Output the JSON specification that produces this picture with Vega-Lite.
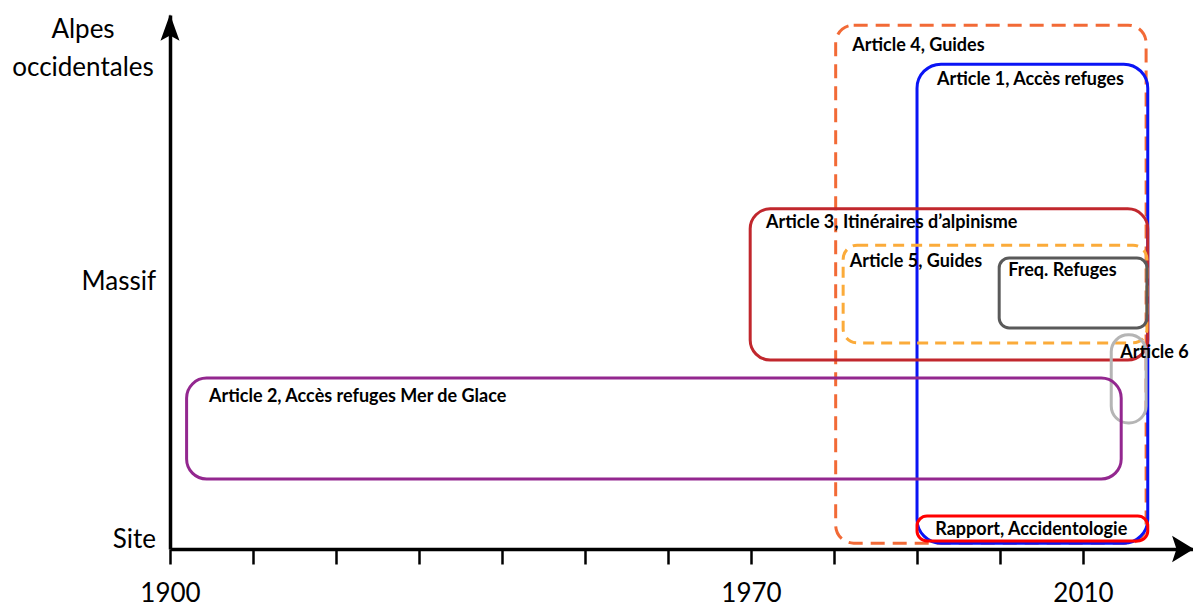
{
  "$schema": "https://vega.github.io/schema/vega-lite/v6.json",
  "width": 1023,
  "height": 534,
  "autosize": {"type": "none"},
  "padding": {"left": 170, "top": 15, "right": 0, "bottom": 58},
  "background": "white",
  "config": {"view": {"stroke": null}},
  "datasets": {
    "boxes": [
      {"id": "a4", "label": "Article 4, Guides", "start": 1980.2, "end": 2017.6, "top": 98.1, "bottom": 1.1, "lx": 1982.2, "ly": 94.2},
      {"id": "a1", "label": "Article 1, Accès refuges", "start": 1990.0, "end": 2017.8, "top": 90.8, "bottom": 1.1, "lx": 1992.4, "ly": 87.8},
      {"id": "a3", "label": "Article 3, Itinéraires d’alpinisme", "start": 1969.9, "end": 2017.8, "top": 63.7, "bottom": 35.4, "lx": 1971.8, "ly": 61.0},
      {"id": "a5", "label": "Article 5, Guides", "start": 1981.1, "end": 2017.7, "top": 56.9, "bottom": 38.6, "lx": 1981.9, "ly": 53.7},
      {"id": "fr", "label": "Freq. Refuges", "start": 1999.9, "end": 2017.7, "top": 54.5, "bottom": 41.4, "lx": 2001.0, "ly": 52.1},
      {"id": "a6", "label": "Article 6", "start": 2013.4, "end": 2017.6, "top": 40.1, "bottom": 23.6, "lx": 2014.5, "ly": 36.7},
      {"id": "a2", "label": "Article 2, Accès refuges Mer de Glace", "start": 1902.0, "end": 2014.6, "top": 32.0, "bottom": 13.1, "lx": 1904.7, "ly": 28.5},
      {"id": "ra", "label": "Rapport, Accidentologie", "start": 1990.0, "end": 2017.8, "top": 6.2, "bottom": 1.5, "lx": 1992.2, "ly": 3.6}
    ],
    "levels": [
      {"label": "Site", "level": 1.7},
      {"label": "Massif", "level": 50.0}
    ],
    "top_level": [
      {"label": "Alpes\noccidentales", "level": 97.2}
    ],
    "arrow_x": [{"year": 2022.05, "level": 0}],
    "arrow_y": [{"year": 1900, "level": 97.66}]
  },
  "layer": [
    {
      "data": {"name": "boxes"},
      "transform": [{"filter": "datum.id == 'a4'"}],
      "mark": {"type": "rect", "filled": false, "stroke": "#f26a36", "strokeWidth": 3, "strokeDash": [14, 8], "cornerRadius": 18},
      "encoding": {
        "x": {"field": "start", "type": "quantitative", "scale": {"domain": [1900, 2023.25], "nice": false, "zero": false},
          "axis": {"title": null, "values": [1900, 1910, 1920, 1930, 1940, 1950, 1960, 1970, 1980, 1990, 2000, 2010], "format": "d",
            "labelExpr": "datum.value == 1900 || datum.value == 1970 || datum.value == 2010 ? datum.label : ''",
            "domainColor": "black", "domainWidth": 3.5, "tickColor": "black", "tickWidth": 2.5, "tickSize": 15,
            "labelFont": "Lato", "labelFontSize": 26, "labelColor": "black", "labelPadding": 16, "grid": false, "labelFlush": false, "labelOverlap": false}},
        "x2": {"field": "end"},
        "y": {"field": "top", "type": "quantitative", "scale": {"domain": [0, 100], "nice": false, "zero": false},
          "axis": {"title": null, "labels": false, "ticks": false, "grid": false, "domainColor": "black", "domainWidth": 3.5}},
        "y2": {"field": "bottom"}
      }
    },
    {
      "data": {"name": "boxes"},
      "transform": [{"filter": "datum.id == 'a1'"}],
      "mark": {"type": "rect", "filled": false, "stroke": "#0a14f5", "strokeWidth": 3, "cornerRadius": 24},
      "encoding": {
        "x": {"field": "start", "type": "quantitative", "scale": {"domain": [1900, 2023.25], "nice": false, "zero": false}, "axis": {"title": null}},
        "x2": {"field": "end"},
        "y": {"field": "top", "type": "quantitative", "scale": {"domain": [0, 100], "nice": false, "zero": false}, "axis": {"title": null}},
        "y2": {"field": "bottom"}
      }
    },
    {
      "data": {"name": "boxes"},
      "transform": [{"filter": "datum.id == 'a3'"}],
      "mark": {"type": "rect", "filled": false, "stroke": "#c1272d", "strokeWidth": 3, "cornerRadius": 20},
      "encoding": {
        "x": {"field": "start", "type": "quantitative", "scale": {"domain": [1900, 2023.25], "nice": false, "zero": false}, "axis": {"title": null}},
        "x2": {"field": "end"},
        "y": {"field": "top", "type": "quantitative", "scale": {"domain": [0, 100], "nice": false, "zero": false}, "axis": {"title": null}},
        "y2": {"field": "bottom"}
      }
    },
    {
      "data": {"name": "boxes"},
      "transform": [{"filter": "datum.id == 'a5'"}],
      "mark": {"type": "rect", "filled": false, "stroke": "#fbab3a", "strokeWidth": 3, "strokeDash": [11, 7], "cornerRadius": 14},
      "encoding": {
        "x": {"field": "start", "type": "quantitative", "scale": {"domain": [1900, 2023.25], "nice": false, "zero": false}, "axis": {"title": null}},
        "x2": {"field": "end"},
        "y": {"field": "top", "type": "quantitative", "scale": {"domain": [0, 100], "nice": false, "zero": false}, "axis": {"title": null}},
        "y2": {"field": "bottom"}
      }
    },
    {
      "data": {"name": "boxes"},
      "transform": [{"filter": "datum.id == 'fr'"}],
      "mark": {"type": "rect", "filled": false, "stroke": "#5a5a5a", "strokeWidth": 3, "cornerRadius": 10},
      "encoding": {
        "x": {"field": "start", "type": "quantitative", "scale": {"domain": [1900, 2023.25], "nice": false, "zero": false}, "axis": {"title": null}},
        "x2": {"field": "end"},
        "y": {"field": "top", "type": "quantitative", "scale": {"domain": [0, 100], "nice": false, "zero": false}, "axis": {"title": null}},
        "y2": {"field": "bottom"}
      }
    },
    {
      "data": {"name": "boxes"},
      "transform": [{"filter": "datum.id == 'a6'"}],
      "mark": {"type": "rect", "filled": false, "stroke": "#b5b5b5", "strokeWidth": 3, "cornerRadius": 17},
      "encoding": {
        "x": {"field": "start", "type": "quantitative", "scale": {"domain": [1900, 2023.25], "nice": false, "zero": false}, "axis": {"title": null}},
        "x2": {"field": "end"},
        "y": {"field": "top", "type": "quantitative", "scale": {"domain": [0, 100], "nice": false, "zero": false}, "axis": {"title": null}},
        "y2": {"field": "bottom"}
      }
    },
    {
      "data": {"name": "boxes"},
      "transform": [{"filter": "datum.id == 'a2'"}],
      "mark": {"type": "rect", "filled": false, "stroke": "#93278f", "strokeWidth": 3, "cornerRadius": 20},
      "encoding": {
        "x": {"field": "start", "type": "quantitative", "scale": {"domain": [1900, 2023.25], "nice": false, "zero": false}, "axis": {"title": null}},
        "x2": {"field": "end"},
        "y": {"field": "top", "type": "quantitative", "scale": {"domain": [0, 100], "nice": false, "zero": false}, "axis": {"title": null}},
        "y2": {"field": "bottom"}
      }
    },
    {
      "data": {"name": "boxes"},
      "transform": [{"filter": "datum.id == 'ra'"}],
      "mark": {"type": "rect", "filled": false, "stroke": "#ff0000", "strokeWidth": 3, "cornerRadius": 10},
      "encoding": {
        "x": {"field": "start", "type": "quantitative", "scale": {"domain": [1900, 2023.25], "nice": false, "zero": false}, "axis": {"title": null}},
        "x2": {"field": "end"},
        "y": {"field": "top", "type": "quantitative", "scale": {"domain": [0, 100], "nice": false, "zero": false}, "axis": {"title": null}},
        "y2": {"field": "bottom"}
      }
    },
    {
      "data": {"name": "boxes"},
      "mark": {"type": "text", "align": "left", "baseline": "middle", "font": "Lato", "fontWeight": "bold", "fontSize": 18, "color": "black"},
      "encoding": {
        "x": {"field": "lx", "type": "quantitative", "scale": {"domain": [1900, 2023.25], "nice": false, "zero": false}, "axis": {"title": null}},
        "y": {"field": "ly", "type": "quantitative", "scale": {"domain": [0, 100], "nice": false, "zero": false}, "axis": {"title": null}},
        "text": {"field": "label"}
      }
    },
    {
      "data": {"name": "levels"},
      "mark": {"type": "text", "align": "right", "baseline": "middle", "dx": -14, "font": "Lato", "fontSize": 26, "color": "black"},
      "encoding": {
        "x": {"datum": 1900, "type": "quantitative", "scale": {"domain": [1900, 2023.25], "nice": false, "zero": false}, "axis": {"title": null}},
        "y": {"field": "level", "type": "quantitative", "scale": {"domain": [0, 100], "nice": false, "zero": false}, "axis": {"title": null}},
        "text": {"field": "label"}
      }
    },
    {
      "data": {"name": "top_level"},
      "mark": {"type": "text", "align": "center", "baseline": "middle", "dx": -87, "lineBreak": "\n", "lineHeight": 38, "font": "Lato", "fontSize": 26, "color": "black"},
      "encoding": {
        "x": {"datum": 1900, "type": "quantitative", "scale": {"domain": [1900, 2023.25], "nice": false, "zero": false}, "axis": {"title": null}},
        "y": {"field": "level", "type": "quantitative", "scale": {"domain": [0, 100], "nice": false, "zero": false}, "axis": {"title": null}},
        "text": {"field": "label"}
      }
    },
    {
      "data": {"name": "arrow_x"},
      "mark": {"type": "point", "shape": "M-1,-1.2L1,0L-1,1.2L-0.6,0Z", "size": 480, "filled": true, "color": "black", "opacity": 1, "strokeWidth": 0},
      "encoding": {
        "x": {"field": "year", "type": "quantitative", "scale": {"domain": [1900, 2023.25], "nice": false, "zero": false}, "axis": {"title": null}},
        "y": {"field": "level", "type": "quantitative", "scale": {"domain": [0, 100], "nice": false, "zero": false}, "axis": {"title": null}}
      }
    },
    {
      "data": {"name": "arrow_y"},
      "mark": {"type": "point", "shape": "M-0.72,1L0,-1L0.72,1L0,0.6Z", "size": 700, "filled": true, "color": "black", "opacity": 1, "strokeWidth": 0},
      "encoding": {
        "x": {"field": "year", "type": "quantitative", "scale": {"domain": [1900, 2023.25], "nice": false, "zero": false}, "axis": {"title": null}},
        "y": {"field": "level", "type": "quantitative", "scale": {"domain": [0, 100], "nice": false, "zero": false}, "axis": {"title": null}}
      }
    }
  ]
}
